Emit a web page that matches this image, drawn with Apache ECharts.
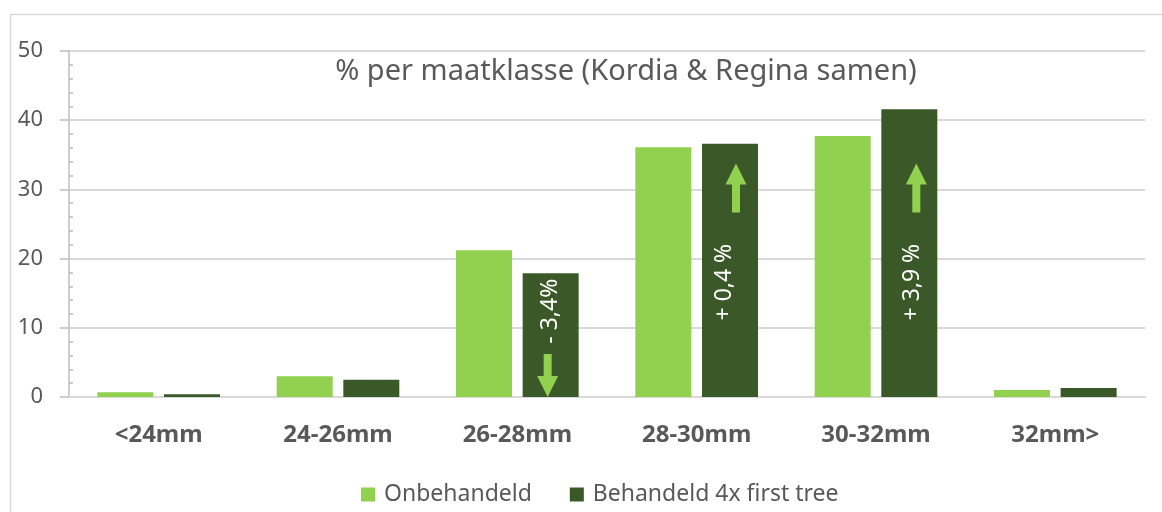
<!DOCTYPE html>
<html>
<head>
<meta charset="utf-8">
<script src="https://cdn.jsdelivr.net/npm/echarts@6/dist/echarts.min.js"></script>
<style>
  html, body { margin: 0; padding: 0; background: #fff; }
  #chart { width: 1162px; height: 512px; }
</style>
</head>
<body>
<div id="chart"></div>
<script>
// categorieen en waarden (%)
var categories = ['<24mm', '24-26mm', '26-28mm', '28-30mm', '30-32mm', '32mm>']
var onbehandeld = [0.7, 3.0, 21.2, 36.1, 37.7, 1.0]
var behandeld = [0.4, 2.5, 17.9, 36.6, 41.6, 1.3]
var yTicks = [0, 10, 20, 30, 40, 50]

// verschil-annotaties in de donkere balken
var changeCats = ['26-28mm', '28-30mm', '30-32mm']
var changeTexts = ['- 3,4%', '+ 0,4 %', '+ 3,9 %']
var changeDir = ['down', 'up', 'up']

var LIGHT = '#92D050'
var DARK = '#3B5828'
var TXT = '#595959'
var FONT = '"Noto Sans", "Open Sans", sans-serif'

var ARROW_UP = 'path://M10.5,0 L21,21 L14.5,21 L14.5,49 L6.5,49 L6.5,21 L0,21 Z'
var ARROW_DOWN = 'path://M6.5,0 L14.5,0 L14.5,22 L21,22 L10.5,43 L0,22 L6.5,22 Z'

// plaatsing van tekst en pijlen (y in aswaarden, x-offset in px t.o.v. balkmidden)
var textY = [12.4, 16.6, 16.6]
var textDx = [0, -6, 3]
var arrowY = [3.1, 30.2, 30.2]
var arrowDx = [-3, 6, 7]

var chart = echarts.init(document.getElementById('chart'))

var marks = []
changeCats.forEach(function(c, i) {
  marks.push({
    coord: [c, arrowY[i]],
    symbol: changeDir[i] === 'up' ? ARROW_UP : ARROW_DOWN,
    symbolSize: changeDir[i] === 'up' ? [21, 49] : [21, 43],
    symbolKeepAspect: false,
    symbolOffset: [arrowDx[i], 0],
    itemStyle: { color: LIGHT },
    label: { show: false }
  })
  marks.push({
    coord: [c, textY[i]],
    symbol: 'circle',
    symbolSize: 1,
    symbolOffset: [textDx[i], 0],
    itemStyle: { color: 'rgba(0,0,0,0)' },
    label: {
      show: true,
      position: 'inside',
      rotate: 90,
      formatter: changeTexts[i],
      color: '#fff',
      fontSize: 23,
      fontFamily: FONT
    }
  })
})

chart.setOption({
  animation: false,
  textStyle: { fontFamily: FONT },
  title: {
    text: '% per maatklasse (Kordia & Regina samen)',
    left: 621,
    top: 52,
    textAlign: 'center',
    textStyle: { color: TXT, fontSize: 29, fontWeight: 'normal', fontFamily: FONT }
  },
  graphic: [{
    type: 'rect',
    shape: { x: 10.5, y: 14.5, width: 1200, height: 600 },
    style: { fill: 'none', stroke: '#d9d9d9', lineWidth: 1.5 },
    silent: true
  }],
  legend: {
    bottom: 1,
    left: 356,
    itemWidth: 14,
    itemHeight: 14,
    itemGap: 38,
    icon: 'rect',
    textStyle: { color: TXT, fontSize: 23, fontFamily: FONT, padding: [0, 0, 0, 4] },
    data: ['Onbehandeld', 'Behandeld 4x first tree']
  },
  grid: { left: 69, right: 17, top: 51, bottom: 115 },
  xAxis: {
    type: 'category',
    data: categories,
    axisLine: { lineStyle: { color: '#d9d9d9', width: 2 } },
    axisTick: { show: false },
    axisLabel: { color: TXT, fontSize: 24, fontWeight: 'bold', margin: 26, fontFamily: FONT }
  },
  yAxis: {
    type: 'value',
    min: yTicks[0],
    max: yTicks[yTicks.length - 1],
    interval: 10,
    axisLine: { show: true, lineStyle: { color: '#bfbfbf', width: 1.5 } },
    axisTick: { show: true, length: 9, lineStyle: { color: '#bfbfbf', width: 1.5 } },
    minorTick: { show: true, splitNumber: 5, length: -4, lineStyle: { color: '#bfbfbf', width: 1.5 } },
    splitLine: { lineStyle: { color: '#d9d9d9', width: 2 } },
    axisLabel: { color: TXT, fontSize: 22, margin: 26, fontFamily: FONT }
  },
  series: [
    {
      name: 'Onbehandeld',
      type: 'bar',
      data: onbehandeld,
      barWidth: 56,
      barGap: '19%',
      itemStyle: { color: LIGHT }
    },
    {
      name: 'Behandeld 4x first tree',
      type: 'bar',
      data: behandeld,
      barWidth: 56,
      itemStyle: { color: DARK },
      markPoint: { silent: true, data: marks }
    }
  ]
})
</script>
</body>
</html>
